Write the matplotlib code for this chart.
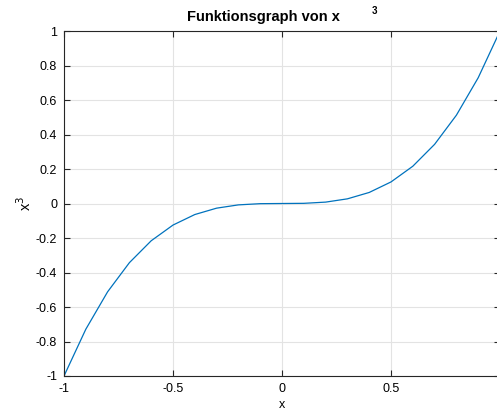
import matplotlib
matplotlib.use("Agg")
import matplotlib.pyplot as plt
from matplotlib.ticker import FuncFormatter

plt.rcParams["font.family"] = ["Liberation Sans", "DejaVu Sans"]
plt.rcParams["axes.unicode_minus"] = False

# Werte von x und x^3
x_vals = [-1.0, -0.9, -0.8, -0.7, -0.6, -0.5, -0.4, -0.3, -0.2, -0.1, 0.0,
          0.1, 0.2, 0.3, 0.4, 0.5, 0.6, 0.7, 0.8, 0.9, 1.0]
y_vals = [-1.0, -0.729, -0.512, -0.343, -0.216, -0.125, -0.064, -0.027, -0.008, -0.001, 0.0,
          0.001, 0.008, 0.027, 0.064, 0.125, 0.216, 0.343, 0.512, 0.729, 1.0]
x_ticks = [-1, -0.5, 0, 0.5, 1]
y_ticks = [-1, -0.8, -0.6, -0.4, -0.2, 0, 0.2, 0.4, 0.6, 0.8, 1]

BLUE = "#0072BD"
EDGE = "#262626"

fig = plt.figure(figsize=(4.97, 4.12), dpi=100)
ax = fig.add_axes([64 / 497, 36 / 412, 436 / 497, 345 / 412])

ax.plot(x_vals, y_vals, color=BLUE, lw=0.9)
ax.set_xlim(-1, 1)
ax.set_ylim(-1, 1)
ax.set_xticks(x_ticks)
ax.set_yticks(y_ticks)
fmt = FuncFormatter(lambda v, _: f"{v:g}")
ax.xaxis.set_major_formatter(fmt)
ax.yaxis.set_major_formatter(fmt)
ax.grid(True, color="#e3e3e3", lw=0.8)
ax.set_axisbelow(True)
ax.tick_params(direction="in", length=4, width=0.8, color=EDGE, labelsize=9,
               top=True, right=True, pad=5)
for s in ax.spines.values():
    s.set_color(EDGE)
    s.set_linewidth(0.8)

ax.set_xlabel("x", fontsize=9, labelpad=3)
ax.set_ylabel("x$^3$", fontsize=10.5, labelpad=1)

fig.text(263 / 497, 1 - 17 / 412, "Funktionsgraph von x", ha="center", va="center",
         fontsize=10.5, fontweight="bold")
fig.text(374 / 497, 1 - 11 / 412, "3", ha="center", va="center",
         fontsize=7, fontweight="bold")

fig.savefig("out.png", dpi=100)
